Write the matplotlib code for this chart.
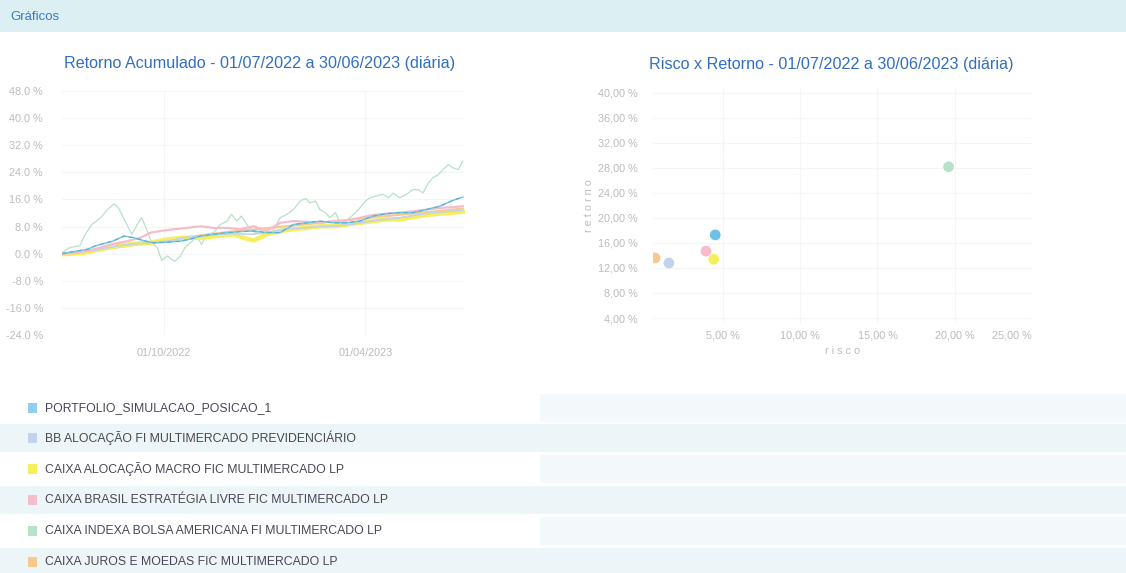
import matplotlib
matplotlib.use("Agg")
import matplotlib.pyplot as plt
import matplotlib.dates as mdates
import pandas as pd
from matplotlib.patches import Rectangle

plt.rcParams['font.family'] = ['Liberation Sans', 'DejaVu Sans']

# ---------------- data ----------------
start_date = "2022-07-01"
end_date = "2023-06-30"

names = [
    "PORTFOLIO_SIMULACAO_POSICAO_1",
    "BB ALOCAÇÃO FI MULTIMERCADO PREVIDENCIÁRIO",
    "CAIXA ALOCAÇÃO MACRO FIC MULTIMERCADO LP",
    "CAIXA BRASIL ESTRATÉGIA LIVRE FIC MULTIMERCADO LP",
    "CAIXA INDEXA BOLSA AMERICANA FI MULTIMERCADO LP",
    "CAIXA JUROS E MOEDAS FIC MULTIMERCADO LP",
]
colors = ["#7cc6e8", "#c3d2ee", "#f4ef5a", "#f6bccb", "#b5e2c9", "#f7c98c"]

# days since 01/07/2022 and cumulative return (%)
portfolio_days = [0, 14, 23, 30, 46, 56, 65, 74, 83, 95, 107, 116, 125, 137, 149, 161, 173, 185, 197, 209, 221, 233, 245, 257, 269, 281, 293, 305, 317, 329, 341, 353, 362]
portfolio_ret = [0.0, 0.8, 1.3, 2.3, 3.7, 5.2, 4.7, 3.8, 3.2, 3.4, 3.7, 4.3, 5.2, 5.7, 6.2, 6.5, 6.7, 6.2, 6.2, 8.6, 9.1, 9.6, 9.1, 9.1, 9.6, 11.1, 11.8, 12.1, 12.1, 13.0, 14.0, 15.7, 16.7]

bb_days = [0, 20, 35, 50, 65, 80, 95, 110, 125, 140, 155, 170, 185, 200, 215, 230, 245, 260, 275, 290, 305, 320, 335, 350, 362]
bb_ret = [0.0, 0.6, 1.3, 2.3, 2.9, 3.2, 3.7, 4.7, 5.2, 5.7, 5.9, 5.7, 6.2, 7.2, 7.6, 7.9, 8.1, 8.6, 9.4, 10.1, 10.6, 11.4, 12.1, 12.5, 12.8]

macro_days = [0, 20, 35, 50, 65, 80, 95, 110, 125, 140, 155, 167, 173, 185, 197, 209, 221, 233, 245, 257, 269, 281, 293, 305, 317, 329, 341, 353, 362]
macro_ret = [-0.2, 0.3, 1.3, 2.3, 2.9, 3.2, 4.2, 4.7, 4.7, 5.2, 5.7, 4.4, 3.9, 5.7, 6.7, 7.2, 7.6, 8.1, 8.1, 8.6, 9.1, 9.6, 10.1, 10.1, 10.8, 11.4, 11.8, 12.1, 12.4]

livre_days = [0, 14, 29, 44, 59, 71, 80, 89, 101, 113, 125, 137, 149, 161, 173, 185, 197, 209, 221, 233, 245, 257, 269, 281, 293, 305, 317, 329, 341, 353, 362]
livre_ret = [0.0, 0.3, 1.3, 2.7, 3.7, 4.7, 6.2, 6.7, 7.2, 7.6, 8.1, 7.6, 7.6, 7.2, 8.1, 6.7, 9.1, 9.6, 9.4, 9.1, 9.6, 9.8, 10.6, 11.4, 11.8, 12.1, 12.5, 13.0, 13.5, 13.7, 14.0]

indexa_days = [0, 7, 16, 21, 27, 35, 41, 47, 51, 57, 63, 68, 72, 77, 81, 86, 90, 95, 99, 102, 107, 111, 116, 122, 126, 131, 137, 143, 149, 153, 158, 162, 167, 171, 176, 182, 188, 193, 197, 203, 209, 215, 220, 224, 229, 233, 238, 242, 247, 251, 256, 260, 265, 269, 274, 278, 284, 290, 295, 299, 305, 311, 317, 322, 326, 331, 335, 340, 344, 349, 353, 358, 362]
indexa_ret = [0.3, 1.8, 2.3, 5.7, 8.6, 10.6, 13.0, 14.7, 13.5, 9.6, 5.7, 8.6, 10.6, 6.7, 3.2, 1.8, -2.0, -0.7, -1.7, -2.2, -0.7, 1.8, 3.2, 5.2, 2.7, 5.7, 6.2, 8.6, 9.6, 11.6, 9.6, 11.1, 8.6, 6.7, 6.2, 7.2, 5.7, 8.1, 10.6, 11.6, 13.0, 15.5, 16.3, 15.0, 15.5, 13.0, 12.1, 10.6, 12.1, 9.1, 9.6, 10.6, 12.1, 13.5, 15.5, 16.5, 17.0, 17.5, 16.5, 17.9, 16.5, 17.5, 18.9, 18.9, 17.9, 20.9, 22.4, 23.3, 24.8, 26.3, 25.3, 24.8, 27.3]

juros_days = [0, 38, 68, 98, 128, 158, 188, 218, 248, 278, 308, 338, 362]
juros_ret = [0.0, 1.3, 2.7, 4.2, 5.5, 6.7, 7.6, 8.6, 9.6, 10.6, 11.6, 12.5, 13.3]

# risk x return (%)
risk = [4.5, 1.5, 4.4, 3.9, 19.6, 0.6]
ret = [17.3, 12.8, 13.4, 14.7, 28.2, 13.6]

left_yticks = [48, 40, 32, 24, 16, 8, 0, -8, -16, -24]
right_yticks = [40, 36, 32, 28, 24, 20, 16, 12, 8, 4]
right_xticks = [5, 10, 15, 20, 25]
date_ticks = ["2022-10-01", "2023-04-01"]

# ---------------- figure ----------------
W, H = 1126, 573
fig = plt.figure(figsize=(W / 100, H / 100), dpi=100)
fig.patch.set_facecolor("white")

def fx(px):
    return px / W

def fy(py):
    return 1 - py / H

PT = 0.72  # points per pixel at 100 dpi

# header band
fig.patches.append(Rectangle((0, fy(32)), 1, 32 / H, transform=fig.transFigure,
                             facecolor="#dcf0f4", edgecolor="none", zorder=0))
fig.text(fx(10), fy(17), "Gráficos", color="#3a78c2", fontsize=9.5, va="center", ha="left")

text_grey = "#bcbcbc"
title_blue = "#2f6fc0"
grid_c = "#f3f5f7"

# ---------------- left: cumulative return ----------------
ax1 = fig.add_axes([fx(62), fy(335), fx(465 - 62), (335 - 91) / H])
t0 = pd.Timestamp(start_date)
series_days = [portfolio_days, bb_days, macro_days, livre_days, indexa_days, juros_days]
series_ret = [portfolio_ret, bb_ret, macro_ret, livre_ret, indexa_ret, juros_ret]
widths = [1.1, 1.2, 3.2, 1.6, 0.9, 1.6]
order = [4, 5, 2, 1, 3, 0]
for i in order:
    dts = [t0 + pd.Timedelta(days=d) for d in series_days[i]]
    ax1.plot(dts, series_ret[i], color=colors[i], lw=widths[i], zorder=3)
dts = [t0 + pd.Timedelta(days=d) for d in portfolio_days]
ax1.plot(dts, portfolio_ret, color="#4aa8d8", lw=0.8, ls=(0, (4, 3)), zorder=4, alpha=0.8)

ax1.set_xlim(pd.Timestamp(start_date), pd.Timestamp(end_date))
ax1.set_ylim(-24, 48)
ax1.set_yticks(left_yticks)
ax1.set_yticklabels([f"{v:.1f} %" for v in left_yticks])
ax1.set_xticks([pd.Timestamp(d) for d in date_ticks])
ax1.xaxis.set_major_formatter(mdates.DateFormatter("%d/%m/%Y"))
ax1.tick_params(axis="both", length=0, labelsize=7.8, colors=text_grey)
ax1.tick_params(axis="y", pad=19 * PT)
ax1.tick_params(axis="x", pad=13 * PT)
ax1.grid(True, color=grid_c, lw=0.8)
for s in ax1.spines.values():
    s.set_visible(False)
fig.text(fx(260), fy(63), "Retorno Acumulado - 01/07/2022 a 30/06/2023 (diária)", color=title_blue,
         fontsize=11.6, ha="center", va="center")

# ---------------- right: risk x return ----------------
ax2 = fig.add_axes([fx(653), fy(323), fx(1032 - 653), (323 - 88) / H])
for i in range(len(names)):
    ax2.scatter(risk[i], ret[i], s=60, color=colors[i] if i != 0 else "#6cc0e8",
                edgecolors="none", zorder=3)
ax2.set_xlim(0.47, 25)
ax2.set_ylim(3.2, 40.8)
ax2.set_yticks(right_yticks)
ax2.set_yticklabels([f"{v:.2f} %".replace(".", ",") for v in right_yticks])
ax2.set_xticks(right_xticks)
xl = ax2.set_xticklabels([f"{v:.2f} %".replace(".", ",") for v in right_xticks])
xl[-1].set_ha("right")
ax2.tick_params(axis="both", length=0, labelsize=7.8, colors=text_grey)
ax2.tick_params(axis="y", pad=15 * PT)
ax2.tick_params(axis="x", pad=7 * PT)
ax2.grid(True, color=grid_c, lw=0.8)
for s in ax2.spines.values():
    s.set_visible(False)
ax2.set_xlabel("r i s c o", color=text_grey, fontsize=7.8, labelpad=6 * PT)
ax2.set_ylabel("r e t o r n o", color=text_grey, fontsize=7.8, labelpad=4 * PT)
fig.text(fx(831), fy(64), "Risco x Retorno - 01/07/2022 a 30/06/2023 (diária)", color=title_blue,
         fontsize=11.6, ha="center", va="center")

# ---------------- legend rows ----------------
row_y = [408, 438, 469, 500, 531, 562]
for k, (name, c, yy) in enumerate(zip(names, colors, row_y)):
    if k % 2 == 1:
        fig.patches.append(Rectangle((0, fy(yy + 14)), 1, 28 / H, transform=fig.transFigure,
                                     facecolor="#ecf6f8", edgecolor="none", zorder=0))
    else:
        fig.patches.append(Rectangle((fx(540), fy(yy + 14)), 1, 28 / H, transform=fig.transFigure,
                                     facecolor="#f3f9fa", edgecolor="none", zorder=0))
    fig.patches.append(Rectangle((fx(28), fy(yy + 5)), 9 / W, 10 / H, transform=fig.transFigure,
                                 facecolor=c if k != 0 else "#8fd0ee", edgecolor="none", zorder=2))
    fig.text(fx(45), fy(yy), name, color="#4a4555", fontsize=8.8, va="center", ha="left")

fig.savefig("out.png", dpi=100)
